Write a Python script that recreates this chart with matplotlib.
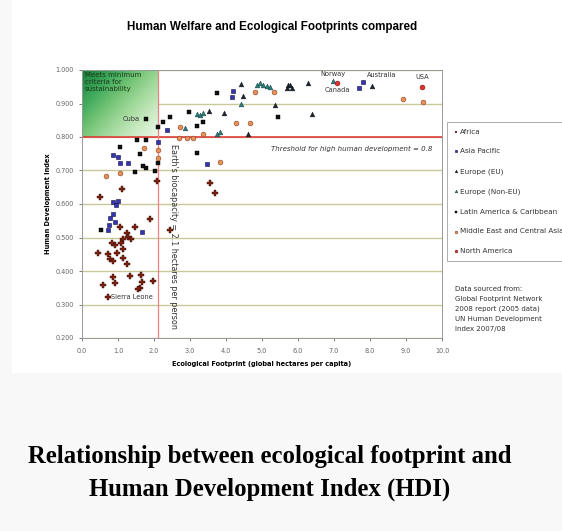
import numpy as np
import matplotlib
matplotlib.use("Agg")
import matplotlib.pyplot as plt
from matplotlib.patches import Rectangle

# values (ecological footprint, HDI)
africa_x = [2.07, 1.10, 0.50, 1.89, 1.47, 1.06, 2.44, 1.24, 1.29, 1.35, 1.15, 1.07, 0.92, 0.82,
            0.44, 0.73, 0.78, 0.87, 0.98, 1.15, 1.13, 1.24, 1.33, 1.63, 1.66, 1.61, 1.56, 0.87,
            0.92, 0.59, 1.98, 0.73, 3.56, 3.69]
africa_y = [0.670, 0.644, 0.620, 0.554, 0.532, 0.530, 0.522, 0.512, 0.502, 0.495, 0.495, 0.483,
            0.478, 0.483, 0.455, 0.451, 0.435, 0.430, 0.455, 0.465, 0.438, 0.421, 0.385, 0.388,
            0.368, 0.348, 0.345, 0.381, 0.363, 0.358, 0.371, 0.323, 0.662, 0.634]

asia_x = [0.87, 1.01, 1.06, 1.29, 0.87, 1.01, 0.94, 0.87, 0.78, 0.76, 0.73, 1.66, 0.92, 2.35,
          2.12, 3.48, 4.19, 4.16, 7.81, 7.70]
asia_y = [0.746, 0.739, 0.721, 0.721, 0.607, 0.610, 0.597, 0.570, 0.557, 0.537, 0.522, 0.517,
          0.547, 0.821, 0.786, 0.719, 0.938, 0.920, 0.965, 0.945]

eu_x = [4.41, 4.46, 5.69, 5.82, 5.71, 5.78, 6.29, 5.36, 6.38, 3.94, 4.60, 8.05, 3.54]
eu_y = [0.957, 0.922, 0.945, 0.945, 0.955, 0.955, 0.960, 0.896, 0.870, 0.873, 0.809, 0.952, 0.879]

noneu_x = [4.41, 4.85, 4.94, 5.04, 5.13, 5.22, 3.19, 3.28, 3.37, 3.83, 3.74, 2.86, 6.98]
noneu_y = [0.899, 0.955, 0.960, 0.955, 0.952, 0.948, 0.870, 0.866, 0.873, 0.816, 0.809, 0.826, 0.968]

latam_x = [1.77, 1.52, 1.77, 1.06, 1.47, 1.70, 1.77, 2.03, 1.61, 0.52, 2.12, 2.26, 2.44, 2.12,
           2.98, 3.37, 3.19, 3.74, 3.19, 5.45]
latam_y = [0.853, 0.790, 0.790, 0.769, 0.696, 0.713, 0.706, 0.700, 0.749, 0.522, 0.831, 0.846,
           0.859, 0.721, 0.876, 0.846, 0.833, 0.930, 0.753, 0.859]

mideast_x = [1.06, 0.67, 4.81, 5.33, 4.28, 4.67, 3.35, 2.93, 2.72, 2.12, 3.83, 8.93, 9.48, 1.72,
             3.07, 2.70, 2.12]
mideast_y = [0.693, 0.685, 0.935, 0.935, 0.841, 0.841, 0.809, 0.796, 0.831, 0.736, 0.726, 0.912,
             0.905, 0.766, 0.796, 0.796, 0.761]

namerica_x = [9.44, 7.09]
namerica_y = [0.950, 0.961]

biocapacity = 2.1
hdi_threshold = 0.8

fig = plt.figure(figsize=(5.62, 5.31), dpi=100, facecolor="#f8f8f8")

# white "image" area behind the chart
fig.patches.append(Rectangle((12 / 562, 1 - 373 / 531), 1, 373 / 531,
                             transform=fig.transFigure, facecolor="white",
                             edgecolor="none", zorder=-10))

ax = fig.add_axes([82 / 562, 1 - 338 / 531, 360 / 562, 268 / 531])
ax.set_zorder(1)
ax.set_facecolor("white")

# green sustainability box with gradient
gx, gy = np.meshgrid(np.linspace(0, 1, 60), np.linspace(0, 1, 60))
shade = 0.55 * gx + 0.45 * gy
ax.imshow(0.8 - 0.7 * shade, cmap="Greens", vmin=0, vmax=1, aspect="auto",
          extent=[0, biocapacity, hdi_threshold, 1.0], origin="upper", zorder=1)
ax.set_xlim(0, 10)
ax.set_ylim(0.2, 1.0)

ax.set_yticks(np.arange(0.2, 1.01, 0.1))
ax.set_xticks(np.arange(0, 10.1, 1))
ax.yaxis.grid(True, color="#c8c89a", lw=1.0, zorder=0)
ax.set_axisbelow(True)
ax.yaxis.set_major_formatter(matplotlib.ticker.FormatStrFormatter("%.3f"))
ax.xaxis.set_major_formatter(matplotlib.ticker.FormatStrFormatter("%.1f"))
ax.tick_params(labelsize=4.7, colors="#666666", length=2.5, width=0.6)
ax.tick_params(axis="x", pad=5)
for s in ax.spines.values():
    s.set_color("#999999")
    s.set_linewidth(0.7)

ax.axhline(hdi_threshold, color="#e03030", lw=1.1, zorder=2)
ax.axvline(biocapacity, color="#f08080", lw=0.9, zorder=2)

ms = 12
ax.scatter(africa_x, africa_y, s=ms + 3, marker="P", color="#7a2010", edgecolor="#3a1008",
           lw=0.3, zorder=3, label="Africa")
ax.scatter(asia_x, asia_y, s=ms, marker="s", color="#3434b4", edgecolor="#101040",
           lw=0.4, zorder=3, label="Asia Pacific")
ax.scatter(eu_x, eu_y, s=ms, marker="^", color="#1c2630", edgecolor="#101010",
           lw=0.3, zorder=3, label="Europe (EU)")
ax.scatter(noneu_x, noneu_y, s=ms, marker="^", color="#2a7e7e", edgecolor="#103030",
           lw=0.3, zorder=3, label="Europe (Non-EU)")
ax.scatter(latam_x, latam_y, s=ms, marker="s", color="#111111", edgecolor="#000000",
           lw=0.3, zorder=3, label="Latin America & Caribbean")
ax.scatter(mideast_x, mideast_y, s=ms, marker="o", color="#e8905a", edgecolor="#8a4020",
           lw=0.4, zorder=3, label="Middle East and Central Asia")
ax.scatter(namerica_x, namerica_y, s=ms, marker="o", color="#e03030", edgecolor="#801010",
           lw=0.4, zorder=3, label="North America")

lbl = dict(fontsize=4.8, color="#333333", zorder=4)
ax.annotate("Cuba", (latam_x[0], latam_y[0]), xytext=(-4, 0), textcoords="offset points",
            ha="right", va="center", **lbl)
ax.annotate("Sierra Leone", (africa_x[31], africa_y[31]), xytext=(2, 0),
            textcoords="offset points", ha="left", va="center", **lbl)
ax.annotate("Norway", (noneu_x[-1], noneu_y[-1]), xytext=(0, 3), textcoords="offset points",
            ha="center", va="bottom", **lbl)
ax.annotate("Canada", (namerica_x[1], namerica_y[1]), xytext=(0, -3),
            textcoords="offset points", ha="center", va="top", **lbl)
ax.annotate("Australia", (asia_x[-2], asia_y[-2]), xytext=(3, 3), textcoords="offset points",
            ha="left", va="bottom", **lbl)
ax.annotate("USA", (namerica_x[0], namerica_y[0]), xytext=(0, 5), textcoords="offset points",
            ha="center", va="bottom", **lbl)

ax.text(0.08, 0.995, "Meets minimum\ncriteria for\nsustainability", fontsize=5,
        color="#1a3a1a", ha="left", va="top", zorder=4)
ax.text(9.72, 0.764, "Threshold for high human development = 0.8", fontsize=5.0,
        style="italic", color="#333333", ha="right", va="center", zorder=4)
ax.text(2.53, 0.78, "Earth's biocapacity = 2.1 hectares per person", fontsize=5.8,
        rotation=-90, color="#333333", ha="center", va="top", zorder=4)

ax.set_xlabel("Ecological Footprint (global hectares per capita)", fontsize=4.8,
              fontweight="bold", labelpad=5)
ax.set_ylabel("Human Development Index", fontsize=4.8, fontweight="bold", labelpad=3)

fig.text(272 / 562, 1 - 27 / 531, "Human Welfare and Ecological Footprints compared",
         fontsize=8.4, fontweight="bold", family="Liberation Sans", ha="center", va="center")

leg = ax.legend(loc="upper left", bbox_to_anchor=(447 / 562, 1 - 122 / 531),
                bbox_transform=fig.transFigure, fontsize=5.2, labelspacing=1.9,
                handletextpad=0.2, handlelength=0.7, markerscale=0.55, frameon=True,
                fancybox=False, borderpad=0.9, borderaxespad=0)
leg.get_frame().set_edgecolor("#999999")
leg.get_frame().set_linewidth(0.7)
for t in leg.get_texts():
    t.set_color("#333333")

fig.text(455 / 562, 1 - 286 / 531,
         "Data sourced from:\nGlobal Footprint Network\n2008 report (2005 data)\n"
         "UN Human Development\nIndex 2007/08",
         fontsize=5.0, color="#333333", ha="left", va="top", linespacing=1.75)

fig.text(270 / 562, 1 - 473 / 531,
         "Relationship between ecological footprint and\nHuman Development Index (HDI)",
         fontsize=17.8, fontweight="bold", family="Liberation Serif", ha="center", va="center",
         linespacing=1.52)

fig.savefig("out.png", dpi=100, facecolor=fig.get_facecolor())
